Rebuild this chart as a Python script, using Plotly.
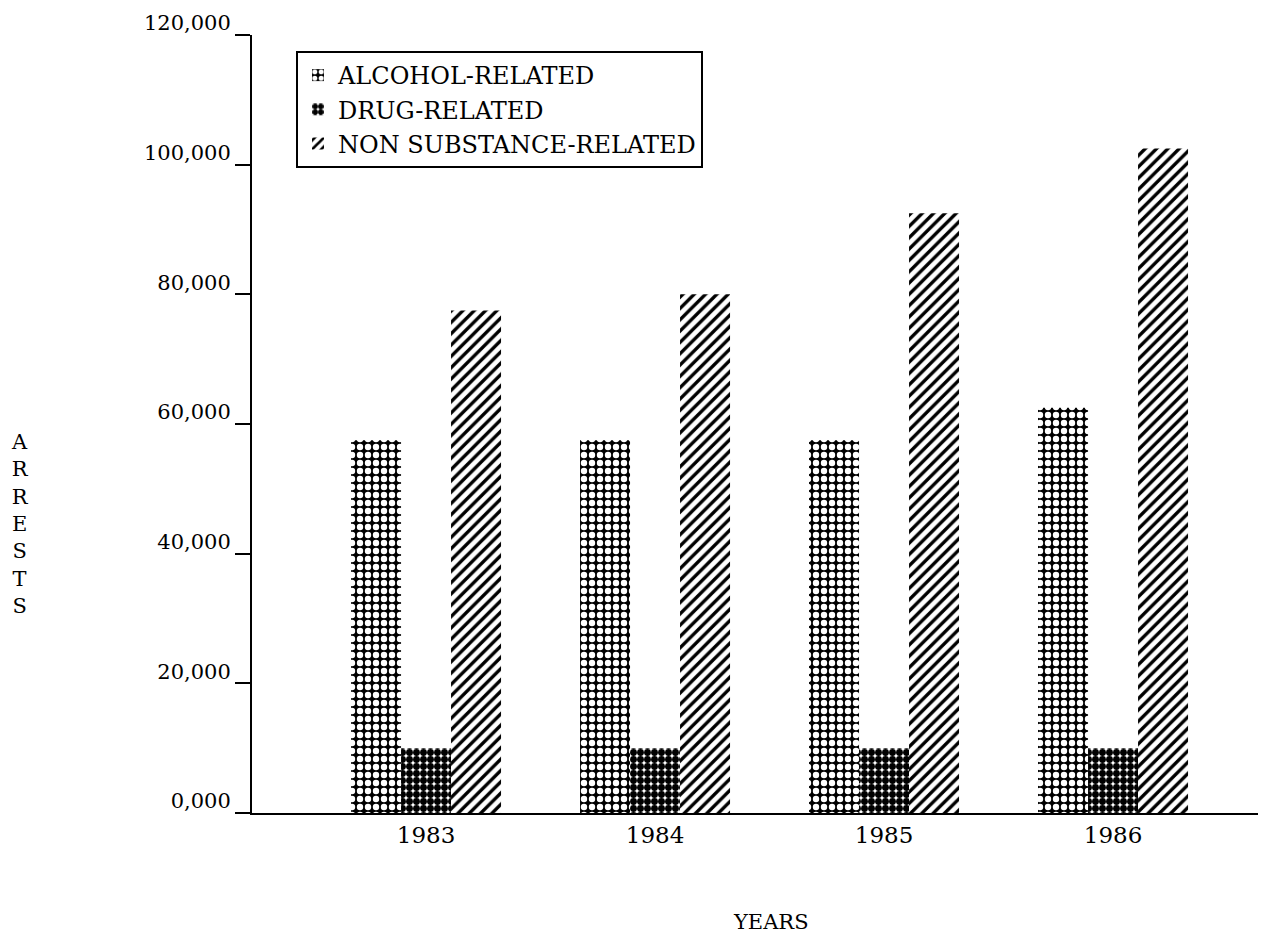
import plotly.graph_objects as go

years = ["1983", "1984", "1985", "1986"]
alcohol = [57500, 57500, 57500, 62500]
drug = [10000, 10000, 10000, 10000]
non_substance = [77500, 80000, 92500, 102500]
y_tick_vals = [0, 20000, 40000, 60000, 80000, 100000, 120000]
y_tick_text = ["0,000", "20,000", "40,000", "60,000", "80,000", "100,000", "120,000"]

FONT = "DejaVu Serif"
xpos = list(range(len(years)))

# page offset of 8px (body margin) -> figure coords
W, H = 1250, 933
L, T = 244, 27
PW, PH = 1006, 778

fig = go.Figure()
fig.add_trace(go.Bar(
    x=xpos, y=alcohol, name="ALCOHOL-RELATED",
    marker=dict(color="black", line=dict(width=0),
                pattern=dict(shape=".", fgcolor="white", bgcolor="black",
                             fillmode="overlay", size=8, solidity=0.5, fgopacity=1)),
))
fig.add_trace(go.Bar(
    x=xpos, y=drug, name="DRUG-RELATED",
    marker=dict(color="white", line=dict(width=0),
                pattern=dict(shape=".", fgcolor="black", bgcolor="white",
                             fillmode="overlay", size=7, solidity=0.75, fgopacity=1)),
))
fig.add_trace(go.Bar(
    x=xpos, y=non_substance, name="NON SUBSTANCE-RELATED",
    marker=dict(color="white", line=dict(width=0),
                pattern=dict(shape="/", fgcolor="black", bgcolor="white",
                             fillmode="overlay", size=8, solidity=0.42, fgopacity=1)),
))

fig.update_layout(
    width=W, height=H,
    margin=dict(l=L, r=W - L - PW, t=T, b=H - T - PH, autoexpand=False),
    paper_bgcolor="white", plot_bgcolor="white",
    barmode="group", bargap=0.345, bargroupgap=0,
    font=dict(family=FONT, color="black", size=21),
    showlegend=True,
    legend=dict(x=(296 - 252) / PW, y=(813 - 51) / PH, xanchor="left", yanchor="top",
                bordercolor="black", borderwidth=2, bgcolor="white",
                font=dict(family=FONT, size=24, color="black"),
                itemwidth=30, tracegroupgap=0),
    xaxis=dict(range=[-0.76, 3.633], tickvals=xpos, ticktext=years,
               showline=True, linecolor="black", linewidth=2,
               ticks="", showgrid=False, zeroline=False,
               tickfont=dict(family=FONT, size=23, color="black")),
    yaxis=dict(range=[0, 120000], tickvals=y_tick_vals, ticktext=y_tick_text,
               showline=True, linecolor="black", linewidth=2,
               ticks="outside", ticklen=15, tickwidth=2, tickcolor="black",
               showgrid=False, zeroline=False, ticklabelshift=-12,
               tickfont=dict(family=FONT, size=21, color="black")),
)

fig.add_annotation(text="A<br>R<br>R<br>E<br>S<br>T<br>S", xref="paper", yref="paper",
                   x=(9 - 252) / PW, y=(813 - 524) / PH, xanchor="left", yanchor="middle",
                   showarrow=False, align="center",
                   font=dict(family=FONT, size=21, color="black"))
fig.add_annotation(text="YEARS", xref="paper", yref="paper",
                   x=(771 - 252) / PW, y=(813 - 922) / PH, xanchor="center", yanchor="middle",
                   showarrow=False, font=dict(family=FONT, size=21, color="black"))

fig.write_html("out.html")
